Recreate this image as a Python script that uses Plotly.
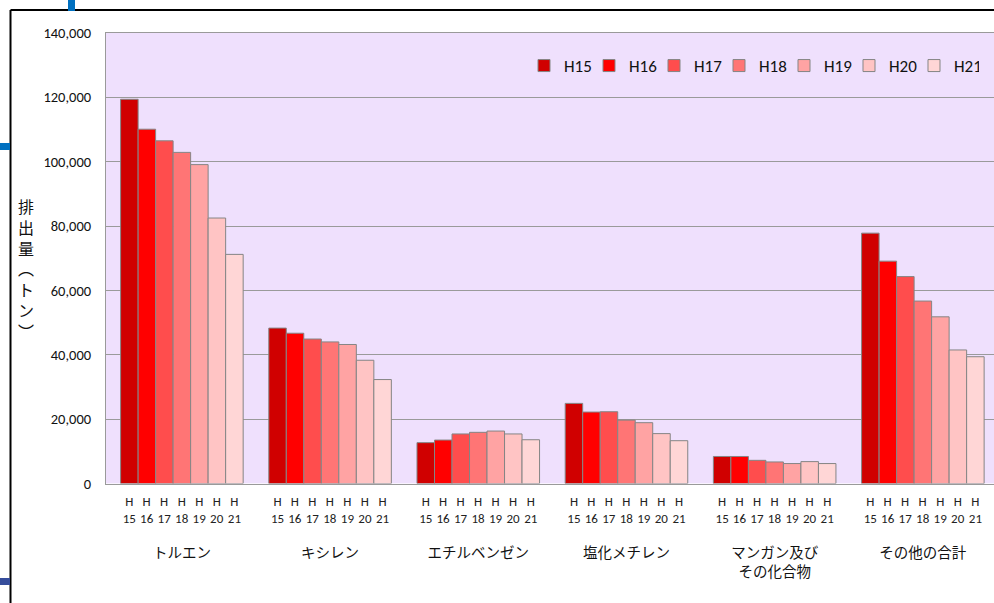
import plotly.graph_objects as go

# ---- data ----
categories = ["トルエン", "キシレン", "エチルベンゼン", "塩化メチレン", "マンガン及び<br>その化合物", "その他の合計"]
years = ["H15", "H16", "H17", "H18", "H19", "H20", "H21"]
year_ticks = ["H<br>15", "H<br>16", "H<br>17", "H<br>18", "H<br>19", "H<br>20", "H<br>21"]
values = {
    "H15": [119400, 48300, 12700, 24900, 8400, 77800],
    "H16": [110100, 46700, 13500, 22200, 8400, 69100],
    "H17": [106500, 44900, 15400, 22300, 7200, 64300],
    "H18": [102900, 44000, 15900, 19700, 6700, 56700],
    "H19": [99100, 43200, 16300, 18900, 6200, 51800],
    "H20": [82500, 38300, 15400, 15500, 6800, 41500],
    "H21": [71200, 32300, 13600, 13300, 6200, 39400],
}
y_title = "排<br>出<br>量<br>︵<br>ト<br>ン<br>︶"

# ---- style ----
colors = ["#D00000", "#FF0000", "#FF4D4D", "#FF7575", "#FFA3A3", "#FFC4C4", "#FFD6D6"]
W, H = 994, 603
ML, MR, MT, MB = 106, 0, 33, 67          # outer plotting region
AXIS_Y = 483.5                          # pixel row of the value axis baseline
NUM_FONT = "Liberation Sans Narrow, Carlito, Noto Sans, sans-serif"
JP_FONT = "Noto Sans CJK JP, sans-serif"

pw, ph = W - ML - MR, H - MT - MB
def px(x):
    return (x - ML) / pw
def py(y):
    return (H - MB - y) / ph

split = py(AXIS_Y)  # main bars above, year-label strip below

fig = go.Figure()
for i, yr in enumerate(years):
    fig.add_trace(go.Bar(
        name=yr, x=categories, y=values[yr], offsetgroup=yr,
        marker=dict(color=colors[i], line=dict(color="#858585", width=1)),
        xaxis="x", yaxis="y",
    ))
for i, yr in enumerate(years):
    # transparent strip bars below the axis that carry the "H/15" style labels
    fig.add_trace(go.Bar(
        x=categories, y=[1] * len(categories), offsetgroup=yr,
        text=[year_ticks[i]] * len(categories), textposition="inside",
        insidetextanchor="middle", constraintext="none",
        insidetextfont=dict(family=NUM_FONT, size=13, color="#222222"),
        textfont=dict(family=NUM_FONT, size=13, color="#222222"),
        marker=dict(color="rgba(0,0,0,0)", line=dict(width=0)),
        showlegend=False, hoverinfo="skip",
        xaxis="x2", yaxis="y2",
    ))

shapes = [
    dict(type="rect", xref="paper", yref="paper", x0=0, x1=1, y0=0, y1=split,
         fillcolor="white", line=dict(width=0), layer="below"),
    dict(type="line", xref="paper", yref="paper", x0=px(10.5), x1=px(10.5), y0=py(10), y1=py(610),
         line=dict(color="black", width=2)),
    dict(type="line", xref="paper", yref="paper", x0=px(10.5), x1=px(1000), y0=py(10), y1=py(10),
         line=dict(color="black", width=2)),
    dict(type="rect", xref="paper", yref="paper", x0=px(68), x1=px(75), y0=py(0), y1=py(11),
         fillcolor="#0070C0", line=dict(width=0)),
    dict(type="rect", xref="paper", yref="paper", x0=px(0), x1=px(10), y0=py(143), y1=py(150),
         fillcolor="#0070C0", line=dict(width=0)),
    dict(type="rect", xref="paper", yref="paper", x0=px(0), x1=px(10), y0=py(578), y1=py(585),
         fillcolor="#364D9B", line=dict(width=0)),
]

fig.update_layout(
    width=W, height=H,
    margin=dict(l=ML, r=MR, t=MT, b=MB, autoexpand=False),
    paper_bgcolor="white", plot_bgcolor="#EFE0FD",
    barmode="group", bargap=0.173, bargroupgap=0,
    showlegend=True,
    legend=dict(orientation="h", x=px(524), y=py(66), xanchor="left", yanchor="middle",
                bgcolor="rgba(0,0,0,0)", font=dict(family=NUM_FONT, size=17, color="#111111"),
                entrywidth=20, traceorder="normal"),
    shapes=shapes,
    annotations=[dict(text=y_title, xref="paper", yref="paper", x=px(26), y=py(268),
                      showarrow=False, font=dict(family=JP_FONT, size=16, color="#111111"),
                      xanchor="center", yanchor="middle")],
    font=dict(family=JP_FONT, color="#111111"),
    xaxis=dict(type="category", range=[-0.512, 5.48], showgrid=False, anchor="y",
               showline=True, linecolor="#9A9A9A", linewidth=1, mirror=True,
               ticks="", ticklabelstandoff=56,
               tickfont=dict(family=JP_FONT, size=14.5, color="#111111")),
    yaxis=dict(domain=[split, 1], range=[0, 140000], dtick=20000, tickformat=",",
               showgrid=True, gridcolor="#9A9A9A", gridwidth=1,
               showline=True, linecolor="#9A9A9A", linewidth=1, mirror=True,
               zeroline=False, ticks="", ticklabelstandoff=11,
               tickfont=dict(family=NUM_FONT, size=14.5, color="#111111")),
    xaxis2=dict(matches="x", anchor="y2", visible=False),
    yaxis2=dict(domain=[0, split], range=[0, 1], visible=False, fixedrange=True),
)

fig.write_html("out.html",
               config={"displayModeBar": False},
               post_script="document.body.style.margin='0';document.body.style.overflow='hidden';")
